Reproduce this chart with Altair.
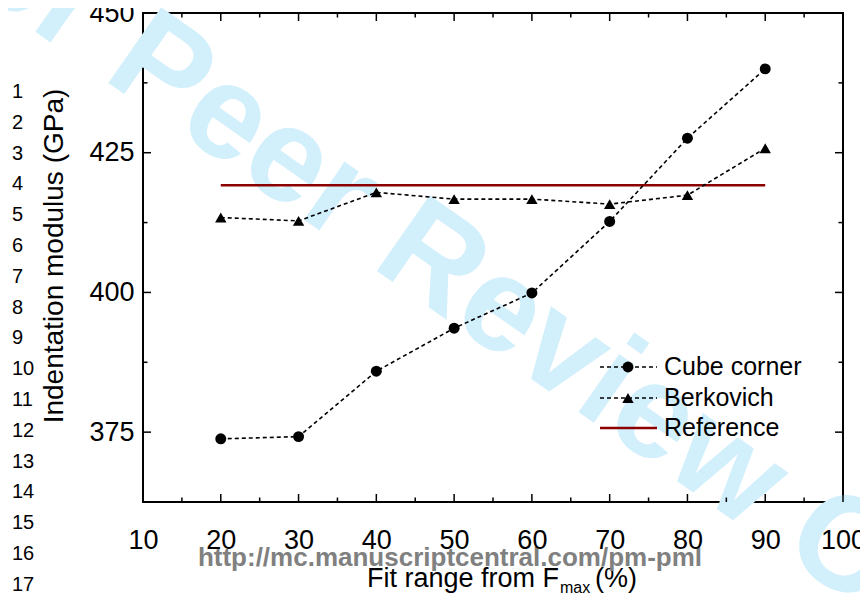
import altair as alt
import pandas as pd

# ---------------- data ----------------
fit_range = [20, 30, 40, 50, 60, 70, 80, 90]
cube_corner = [373.8, 374.2, 385.9, 393.6, 399.9, 412.7, 427.6, 440.0]
berkovich = [413.4, 412.8, 417.9, 416.7, 416.7, 415.8, 417.4, 425.8]
reference_value = 419.2
reference_span = [20, 90]

x_major = [10, 20, 30, 40, 50, 60, 70, 80, 90, 100]
x_minor = [15, 25, 35, 45, 55, 65, 75, 85, 95]
y_labels = [375, 400, 425, 450]
y_major = [375, 400, 425]
y_minor = [387.5, 412.5, 437.5]

legend_names = ["Cube corner", "Berkovich", "Reference"]
line_numbers = list(range(1, 18))

watermark = "For Peer Review Only"
url_text = "http://mc.manuscriptcentral.com/pm-pml"
y_title = "Indentation modulus (GPa)"

# ---------------- layout ----------------
W, H = 700, 489
FONT = "Liberation Sans"
xscale = alt.Scale(domain=[10, 100], nice=False, zero=False)
yscale = alt.Scale(domain=[362.5, 450], nice=False, zero=False)
one = pd.DataFrame({"a": [0]})

df = pd.DataFrame({"x": fit_range, "cube": cube_corner, "berk": berkovich})

x_axis = alt.Axis(values=x_major, title=None, ticks=False, domain=False, grid=False,
                  labelFontSize=27, labelFont=FONT, labelColor="black", labelPadding=25,
                  labelFlush=False, labelOverlap=False, zindex=2)
y_axis = alt.Axis(values=y_labels, title=None, ticks=False, domain=False, grid=False,
                  labelFontSize=27, labelFont=FONT, labelColor="black", labelPadding=9,
                  labelFlush=False, labelOverlap=False, zindex=2)


def X(field):
    return alt.X(field, scale=xscale, axis=x_axis)


def Y(field):
    return alt.Y(field, scale=yscale, axis=y_axis)


# watermark
wm = alt.Chart(one).mark_text(text=watermark, fontSize=134, fontWeight="bold", font=FONT,
                              color="#d2effc", angle=35, align="center", baseline="middle"
                              ).encode(x=alt.value(338), y=alt.value(282))

# data series
cube_line = alt.Chart(df).mark_line(color="black", strokeDash=[4, 3], strokeWidth=1.6).encode(
    x=X("x:Q"), y=Y("cube:Q"))
cube_pts = alt.Chart(df).mark_point(filled=True, shape="circle", size=120, color="black", opacity=1).encode(
    x=X("x:Q"), y=Y("cube:Q"))
berk_line = alt.Chart(df).mark_line(color="black", strokeDash=[4, 3], strokeWidth=1.6).encode(
    x=X("x:Q"), y=Y("berk:Q"))
berk_pts = alt.Chart(df).mark_point(filled=True, shape="triangle-up", size=130, color="black", opacity=1).encode(
    x=X("x:Q"), y=Y("berk:Q"))
ref_df = pd.DataFrame({"x1": [reference_span[0]], "x2": [reference_span[1]], "y": [reference_value]})
ref_line = alt.Chart(ref_df).mark_rule(color="#8b0000", strokeWidth=2.5).encode(
    x=X("x1:Q"), x2="x2:Q", y=Y("y:Q"))


# inward ticks
def xticks(vals, y0, y1):
    return alt.Chart(pd.DataFrame({"v": vals})).mark_rule(color="black", strokeWidth=1.5).encode(
        x=X("v:Q"), y=alt.value(y0), y2=alt.value(y1))


def yticks(vals, x0, x1):
    return alt.Chart(pd.DataFrame({"v": vals})).mark_rule(color="black", strokeWidth=1.5).encode(
        y=Y("v:Q"), x=alt.value(x0), x2=alt.value(x1))


ticks = [
    xticks(x_major, H, H - 8), xticks(x_minor, H, H - 4.5),
    xticks(x_major, 0, 8), xticks(x_minor, 0, 4.5),
    yticks(y_major, 0, 8), yticks(y_minor, 0, 4.5),
    yticks(y_major, W, W - 8), yticks(y_minor, W, W - 4.5),
]

# legend
LX0, LX1, LXM, LXT = 457, 514, 485, 521
LY = [354, 385, 415]
leg = []
for i, name in enumerate(legend_names):
    if i < 2:
        leg.append(alt.Chart(one).mark_rule(color="black", strokeDash=[4, 3], strokeWidth=1.6).encode(
            x=alt.value(LX0), x2=alt.value(LX1), y=alt.value(LY[i])))
        leg.append(alt.Chart(one).mark_point(filled=True, opacity=1, color="black",
                                             shape=["circle", "triangle-up"][i], size=[120, 130][i]).encode(
            x=alt.value(LXM), y=alt.value(LY[i])))
    else:
        leg.append(alt.Chart(one).mark_rule(color="#8b0000", strokeWidth=2.5).encode(
            x=alt.value(LX0), x2=alt.value(LX1), y=alt.value(LY[i])))
    leg.append(alt.Chart(one).mark_text(text=name, fontSize=25, font=FONT, align="left",
                                        baseline="middle", color="black").encode(
        x=alt.value(LXT), y=alt.value(LY[i])))

# titles & page annotations
ytitle = alt.Chart(one).mark_text(text=y_title, fontSize=28, font=FONT, angle=270, align="center",
                                  baseline="alphabetic", color="black").encode(
    x=alt.value(-80), y=alt.value(243))
xt1 = alt.Chart(one).mark_text(text="Fit range from F", fontSize=27, font=FONT, align="right",
                               baseline="alphabetic", color="black").encode(x=alt.value(416), y=alt.value(574))
xt2 = alt.Chart(one).mark_text(text="max", fontSize=16, font=FONT, align="left",
                               baseline="alphabetic", color="black").encode(x=alt.value(417), y=alt.value(580))
xt3 = alt.Chart(one).mark_text(text="(%)", fontSize=27, font=FONT, align="left",
                               baseline="alphabetic", color="black").encode(x=alt.value(452), y=alt.value(574))
url = alt.Chart(one).mark_text(text=url_text, fontSize=26, font=FONT, fontWeight="bold", align="center",
                               baseline="middle", color="#808080").encode(x=alt.value(307), y=alt.value(545))

ln_df = pd.DataFrame({"n": [str(n) for n in line_numbers],
                      "py": [79 + 30.8 * i for i in range(len(line_numbers))]})
lnums = alt.Chart(ln_df).mark_text(fontSize=20, font=FONT, align="left", baseline="middle", color="black").encode(
    text="n:N", x=alt.value(-131), y=alt.Y("py:Q", scale=None, axis=None))

chart = alt.layer(
    wm, *ticks, ref_line, cube_line, berk_line, cube_pts, berk_pts, *leg,
    ytitle, xt1, xt2, xt3, url, lnums
).properties(
    width=W, height=H,
    autosize=alt.AutoSizeParams(type="none"),
    padding={"left": 135, "top": 5, "right": 17, "bottom": 92},
).configure_view(stroke="black", strokeWidth=2)

chart.save("out.html", embed_options={"renderer": "svg", "actions": False})
